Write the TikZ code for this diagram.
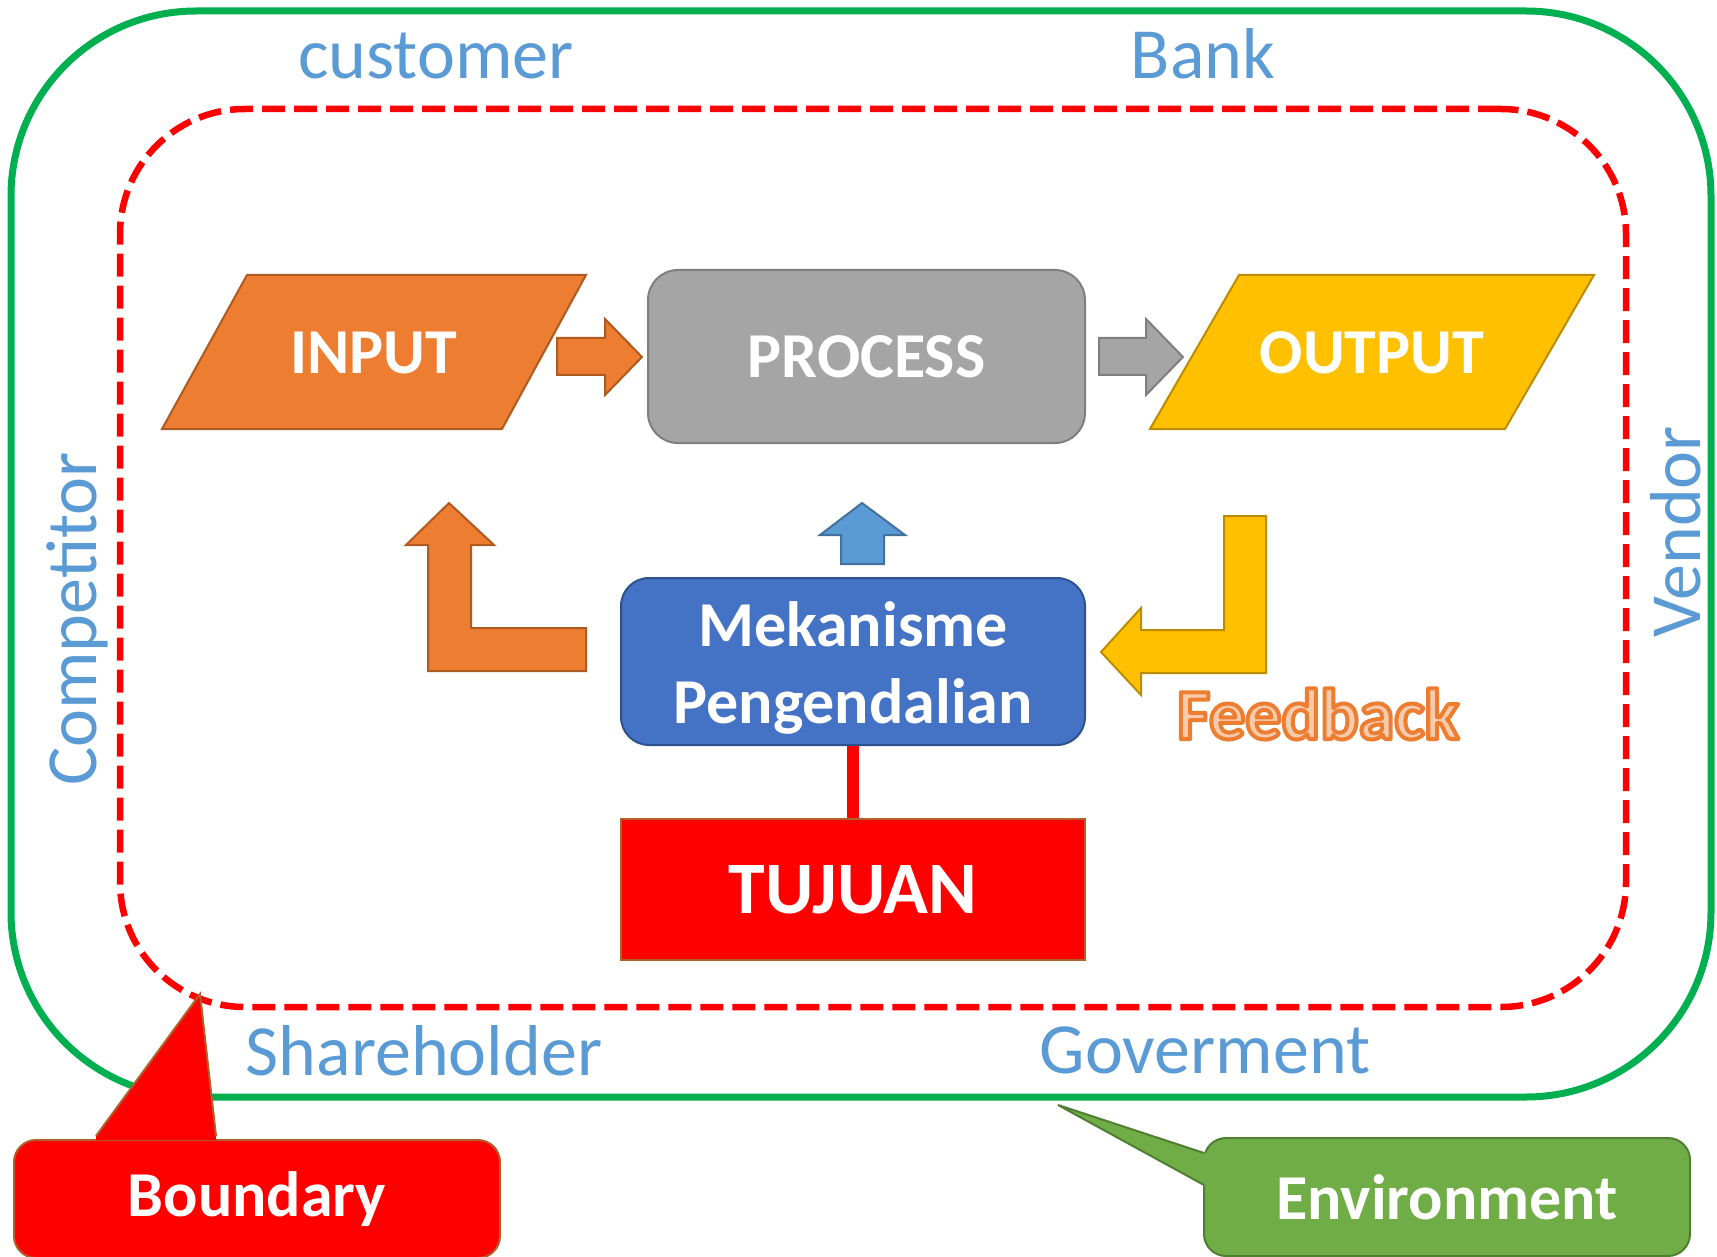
\documentclass[tikz,border=0pt]{standalone}
\usepackage{fontspec}
\setmainfont{Carlito}
\definecolor{orangeF}{HTML}{ED7D31}
\definecolor{orangeD}{HTML}{AE5A21}
\definecolor{grayF}{HTML}{A5A5A5}
\definecolor{grayD}{HTML}{7F7F7F}
\definecolor{yellowF}{HTML}{FFC000}
\definecolor{yellowD}{HTML}{BC8C00}
\definecolor{blueF}{HTML}{4472C4}
\definecolor{blueD}{HTML}{2F528F}
\definecolor{lblueF}{HTML}{5B9BD5}
\definecolor{lblueD}{HTML}{41719C}
\definecolor{redF}{HTML}{FF0000}
\definecolor{redD}{HTML}{B0602A}
\definecolor{envline}{HTML}{00B050}
\definecolor{envF}{HTML}{70AD47}
\definecolor{envD}{HTML}{507E32}
\definecolor{peach}{HTML}{F8CBAD}
\newcommand{\outlinetext}[1]{\textcolor{peach}{\special{pdf:literal direct 2 Tr 4 w 1 j 0.929 0.490 0.192 RG}#1\special{pdf:literal direct 0 Tr 1 w 0 j}}}
\begin{document}
\begin{tikzpicture}[x=1pt,y=-1pt,
  envframe/.style={draw=envline, line width=7pt, rounded corners=185pt, inner sep=0pt},
  bndframe/.style={draw=redF, line width=6.5pt, dash pattern=on 23pt off 9pt, rounded corners=125pt, inner sep=0pt},
  outside/.style={text=lblueF, font=\fontsize{72}{86}\selectfont, inner sep=0pt},
  boxtxt/.style={text=white, font=\bfseries\fontsize{64}{77}\selectfont, inner sep=0pt},
  shp/.style={line width=2pt, line join=miter},
  callout/.style={rounded corners=22pt, line width=2pt, inner sep=0pt, minimum width=486pt, minimum height=118pt, text=white, font=\bfseries\fontsize{64}{76}\selectfont}
]
\useasboundingbox (0,0) rectangle (1717,1257);

% frames
\node[envframe, minimum width=1700pt, minimum height=1086pt] (env) at (861,554) {};
\node[bndframe, minimum width=1506pt, minimum height=898pt] (sys) at (873,558) {};

% outside labels
\node[outside, anchor=base] (cust) at (436,79) {customer};
\node[outside, anchor=base] (bank) at (1203,79) {Bank};
\node[outside, anchor=base] (share) at (424,1075) {Shareholder};
\node[outside, anchor=base] (gov) at (1205,1073) {Goverment};
\node[outside, anchor=base, rotate=90] (comp) at (96,619) {Competitor};
\node[outside, anchor=base, rotate=90] (vend) at (1700,532) {Vendor};

% INPUT
\filldraw[shp, fill=orangeF, draw=orangeD] (247,275) -- (586,275) -- (502,429) -- (162,429) -- cycle;
\node[boxtxt] (input) at (374,353) {INPUT};
% OUTPUT
\filldraw[shp, fill=yellowF, draw=yellowD] (1239,275) -- (1594,275) -- (1505,429) -- (1150,429) -- cycle;
\node[boxtxt] (output) at (1372,353) {OUTPUT};
% PROCESS
\node[shp, draw=grayD, fill=grayF, rounded corners=30pt, minimum width=437pt, minimum height=173pt, boxtxt] (process) at (866.5,356.5) {PROCESS};

% small arrows
\filldraw[shp, fill=orangeF, draw=orangeD] (557,338) -- (605,338) -- (605,319) -- (642,357) -- (605,395) -- (605,375) -- (557,375) -- cycle;
\filldraw[shp, fill=grayF, draw=grayD] (1099,338) -- (1146,338) -- (1146,319) -- (1183,357) -- (1146,395) -- (1146,375) -- (1099,375) -- cycle;

% Mekanisme
\node[shp, draw=blueD, fill=blueF, rounded corners=28pt, minimum width=464pt, minimum height=167pt, inner sep=0pt] (mek) at (853,661.5) {};
\node[boxtxt, anchor=base] (mek1) at (853,646) {Mekanisme};
\node[boxtxt, anchor=base] (mek2) at (853,723) {Pengendalian};

% blue up arrow
\filldraw[shp, fill=lblueF, draw=lblueD] (841,564) -- (841,535) -- (820,535) -- (862,503) -- (905,535) -- (884,535) -- (884,564) -- cycle;
% orange bent-up arrow
\filldraw[shp, fill=orangeF, draw=orangeD] (586,628) -- (471,628) -- (471,545) -- (494,545) -- (449,503) -- (406,545) -- (428,545) -- (428,671) -- (586,671) -- cycle;
% yellow feedback arrow
\filldraw[shp, fill=yellowF, draw=yellowD] (1224,516) -- (1266,516) -- (1266,673) -- (1141,673) -- (1141,695) -- (1101,652) -- (1141,608) -- (1141,630) -- (1224,630) -- cycle;

\node[anchor=base, inner sep=0pt, font=\bfseries\fontsize{72}{86}\selectfont] (fb) at (1318,739) {\outlinetext{Feedback}};

% TUJUAN
\node[shp, draw=redD, fill=redF, minimum width=464pt, minimum height=141pt, inner sep=0pt, text=white, font=\bfseries\fontsize{74}{88}\selectfont] (tuj) at (853,889.5) {TUJUAN};
\draw[redF, line width=12pt] (mek.south) -- (tuj.north);

% callouts
\node[callout, draw=redD, fill=redF] (bndbox) at (257,1199) {Boundary};
\coordinate (bndtip) at (200,994);
\fill[redF] (bndtip) -- (96,1136) -- (96,1140) -- (216,1140) -- (216,1136) -- cycle;
\draw[redD, line width=2pt, line join=miter] (96,1136) -- (bndtip) -- (216,1136);

\node[callout, draw=envD, fill=envF] (envbox) at (1447,1197) {Environment};
\coordinate (envtip) at (1058,1105);
\fill[envF] (envtip) -- (1204,1153) -- (1208,1153) -- (1208,1185) -- (1204,1185) -- cycle;
\draw[envD, line width=2pt, line join=miter] (1204,1153) -- (envtip) -- (1204,1185);
\end{tikzpicture}
\end{document}
